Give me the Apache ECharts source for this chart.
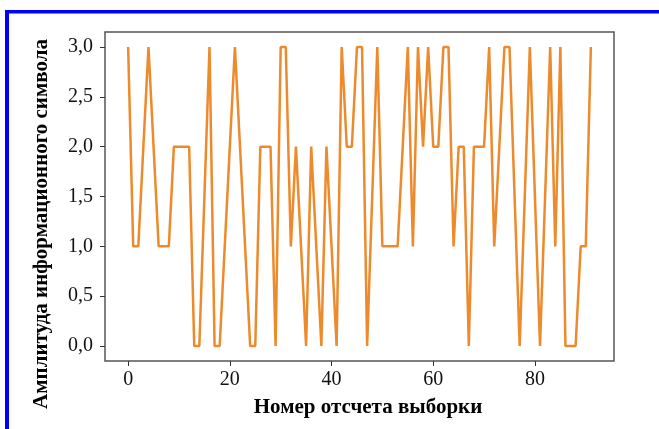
<!DOCTYPE html>
<html>
<head>
<meta charset="utf-8">
<style>
html,body{margin:0;padding:0;background:#fff;}
#chart{width:659px;height:429px;}
</style>
<script src="https://cdn.jsdelivr.net/npm/echarts@6/dist/echarts.min.js"></script>
</head>
<body>
<div id="chart"></div>
<script>
// Data
const sampleIndex = Array.from({length: 92}, (_, i) => i);
const amplitude = [
  3, 1, 1, 2, 3, 2, 1, 1, 1, 2,
  2, 2, 2, 0, 0, 1.5, 3, 0, 0, 1,
  2, 3, 2, 1, 0, 0, 2, 2, 2, 0,
  3, 3, 1, 2, 1, 0, 2, 1, 0, 2,
  1, 0, 3, 2, 2, 3, 3, 0, 1.5, 3,
  1, 1, 1, 1, 2, 3, 1, 3, 2, 3,
  2, 2, 3, 3, 1, 2, 2, 0, 2, 2,
  2, 3, 1, 2, 3, 3, 1.5, 0, 1.5, 3,
  1.5, 0, 1.5, 3, 1, 3, 0, 0, 0, 1,
  1, 3
];
const xTicks = [0, 20, 40, 60, 80];
const yTicks = [0, 0.5, 1, 1.5, 2, 2.5, 3];
const xTitle = 'Номер отсчета выборки';
const yTitle = 'Амплитуда информационного символа';

const FONT = '"Liberation Serif", "Times New Roman", serif';
const chart = echarts.init(document.getElementById('chart'), null, {renderer: 'canvas'});
chart.setOption({
  animation: false,
  backgroundColor: '#ffffff',
  grid: {
    left: 105, right: 45, top: 32, bottom: 68,
    show: true, borderColor: '#555555', borderWidth: 1.5, backgroundColor: 'transparent'
  },
  xAxis: {
    type: 'value',
    min: -4.55, max: 95.55,
    axisLine: {show: false, onZero: false},
    splitLine: {show: false},
    axisTick: {show: true, inside: false, length: 5, customValues: xTicks, lineStyle: {color: '#333', width: 1}},
    axisLabel: {customValues: xTicks, margin: 9, fontFamily: FONT, fontSize: 20, color: '#111'}
  },
  yAxis: {
    type: 'value',
    min: -0.15, max: 3.15,
    axisLine: {show: false, onZero: false},
    splitLine: {show: false},
    axisTick: {show: true, inside: false, length: 5, customValues: yTicks, lineStyle: {color: '#333', width: 1}},
    axisLabel: {
      customValues: yTicks, margin: 12, fontFamily: FONT, fontSize: 20, color: '#111',
      formatter: v => v.toFixed(1).replace('.', ',')
    }
  },
  series: [{
    type: 'line',
    data: sampleIndex.map((x, i) => [x, amplitude[i]]),
    showSymbol: false,
    symbol: 'none',
    lineStyle: {color: '#ec8a2c', width: 2.5},
    itemStyle: {color: '#ec8a2c'}
  }],
  graphic: [
    {type: 'rect', shape: {x: 5, y: 10, width: 654, height: 3.5}, style: {fill: '#0000ff'}},
    {type: 'rect', shape: {x: 5, y: 10, width: 4, height: 419}, style: {fill: '#0000ff'}},
    {type: 'text', x: 368, y: 408, style: {text: xTitle, font: 'bold 21px ' + FONT, fill: '#000', align: 'center', verticalAlign: 'middle'}},
    {type: 'text', x: 42, y: 224, rotation: Math.PI / 2, style: {text: yTitle, font: 'bold 21px ' + FONT, fill: '#000', align: 'center', verticalAlign: 'middle'}}
  ]
});
</script>
</body>
</html>
